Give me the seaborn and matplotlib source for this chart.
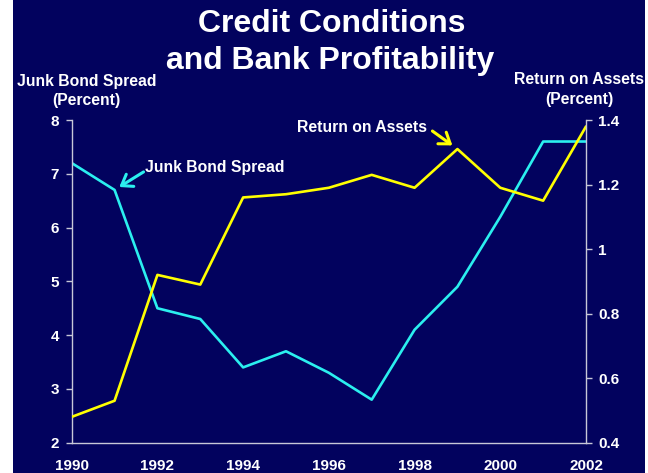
import matplotlib
matplotlib.use("Agg")
import matplotlib.pyplot as plt
import seaborn as sns
import pandas as pd

# Annual series, 1990-2002
years = [1990, 1991, 1992, 1993, 1994, 1995, 1996, 1997, 1998, 1999, 2000, 2001, 2002]
junk_spread = [7.2, 6.7, 4.5, 4.3, 3.4, 3.7, 3.3, 2.8, 4.1, 4.9, 6.2, 7.6, 7.6]
roa = [0.48, 0.53, 0.92, 0.89, 1.16, 1.17, 1.19, 1.23, 1.19, 1.31, 1.19, 1.15, 1.38]

x_ticks = [1990, 1992, 1994, 1996, 1998, 2000, 2002]
left_ticks = [2, 3, 4, 5, 6, 7, 8]
right_ticks = [0.4, 0.6, 0.8, 1.0, 1.2, 1.4]
right_labels = ["0.4", "0.6", "0.8", "1", "1.2", "1.4"]

NAVY = "#02025E"
CYAN = "#2BEFEF"
YELLOW = "#FFFF00"
SPINE = "#C8C8D8"

sns.set_style("white", {"axes.facecolor": NAVY, "figure.facecolor": NAVY})
plt.rcParams["font.family"] = ["Liberation Sans", "DejaVu Sans"]
plt.rcParams["font.weight"] = "bold"

df = pd.DataFrame({"year": years, "spread": junk_spread, "roa": roa})

fig = plt.figure(figsize=(6.48, 4.73), dpi=100)
fig.patch.set_facecolor(NAVY)
ax = fig.add_axes([71.7 / 648, 1 - 442.7 / 473, (586 - 71.7) / 648, (442.7 - 120) / 473])
ax.set_facecolor(NAVY)
ax2 = ax.twinx()

sns.lineplot(data=df, x="year", y="spread", ax=ax, color=CYAN, lw=1.9)
sns.lineplot(data=df, x="year", y="roa", ax=ax2, color=YELLOW, lw=1.9)

ax.set_xlim(1990, 2002)
ax.set_ylim(2, 8)
ax2.set_ylim(0.4, 1.4)
ax.set_xticks(list(range(1990, 2003)))
ax.set_xticklabels([str(y) if y in x_ticks else "" for y in range(1990, 2003)])
ax.set_yticks(left_ticks)
ax.set_yticklabels([str(t) for t in left_ticks])
ax2.set_yticks(right_ticks)
ax2.set_yticklabels(right_labels)
ax.set_xlabel("")
ax.set_ylabel("")
ax2.set_ylabel("")

for a in (ax, ax2):
    a.spines["top"].set_visible(False)
    for side in ("left", "right", "bottom"):
        a.spines[side].set_color(SPINE)
        a.spines[side].set_linewidth(1.0)
    a.grid(False)

ax.spines["right"].set_visible(False)
ax2.spines["left"].set_visible(False)
ax2.spines["bottom"].set_visible(False)

ax.tick_params(axis="x", direction="out", length=4, width=1, color=SPINE, pad=8,
               labelsize=11, labelcolor="white")
ax.tick_params(axis="y", direction="out", length=4, width=1, color=SPINE, pad=5,
               labelsize=11, labelcolor="white")
ax2.tick_params(axis="y", direction="out", length=4, width=1, color=SPINE, pad=5,
                labelsize=11, labelcolor="white")
for lbl in ax.get_xticklabels() + ax.get_yticklabels() + ax2.get_yticklabels():
    lbl.set_fontweight("bold")

# Series call-outs
arrow_style = "->,head_length=0.45,head_width=0.32"
ax.annotate("", xy=(1991, 6.7), xytext=(29, 18), textcoords="offset pixels",
            arrowprops=dict(arrowstyle=arrow_style, color=CYAN, lw=2.2, shrinkA=0,
                            shrinkB=4, mutation_scale=16))
ax.annotate("Junk Bond Spread", xy=(1991, 6.7), xytext=(30, 22), textcoords="offset pixels",
            ha="left", va="center", color="white", fontsize=11.3, fontweight="bold")
ax2.annotate("", xy=(1999, 1.31), xytext=(-25, 18), textcoords="offset pixels",
             arrowprops=dict(arrowstyle=arrow_style, color=YELLOW, lw=2.2, shrinkA=0,
                             shrinkB=4.5, mutation_scale=16))
ax2.annotate("Return on Assets", xy=(1999, 1.31), xytext=(-30, 22), textcoords="offset pixels",
             ha="right", va="center", color="white", fontsize=11.3, fontweight="bold")

# Titles
fig.text(332 / 648, 1 - 24 / 473, "Credit Conditions", ha="center", va="center",
         color="white", fontsize=23, fontweight="bold")
fig.text(330 / 648, 1 - 61.5 / 473, "and Bank Profitability", ha="center", va="center",
         color="white", fontsize=23, fontweight="bold")
fig.text(86.5 / 648, 1 - 91 / 473, "Junk Bond Spread\n(Percent)", ha="center", va="center",
         color="white", fontsize=11.3, fontweight="bold", linespacing=1.38)
fig.text(579.5 / 648, 1 - 89.5 / 473, "Return on Assets\n(Percent)", ha="center", va="center",
         color="white", fontsize=11.3, fontweight="bold", linespacing=1.38)

# White page margins at the left and right edges
fig.patches.append(plt.Rectangle((0, 0), 13 / 648, 1, transform=fig.transFigure,
                                 facecolor="white", edgecolor="none", zorder=-1))
fig.patches.append(plt.Rectangle((645 / 648, 0), 3 / 648, 1, transform=fig.transFigure,
                                 facecolor="white", edgecolor="none", zorder=-1))

fig.savefig("out.png", dpi=100, facecolor=NAVY)
